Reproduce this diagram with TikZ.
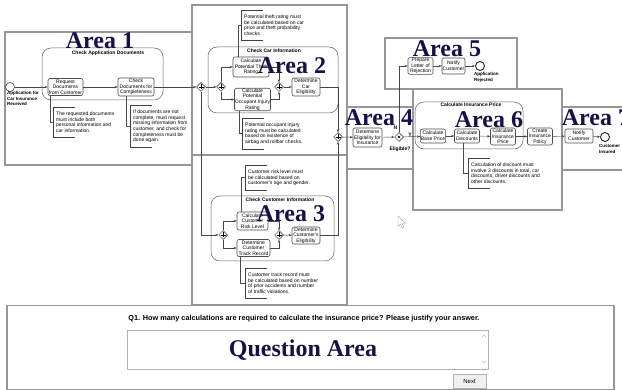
\documentclass[tikz,border=0pt]{standalone}
\usepackage{fontspec}
\setmainfont{Liberation Sans}
\newfontfamily\areafont{Liberation Serif}
\usetikzlibrary{shapes.geometric, arrows.meta, positioning, calc}
\definecolor{areanavy}{RGB}{22,16,72}
\definecolor{framegray}{RGB}{150,150,150}
\definecolor{linegray}{RGB}{70,70,70}
\tikzset{
  areaframe/.style={draw=framegray, line width=1.6pt},
  areatitle/.style={text=areanavy, font=\areafont\bfseries\fontsize{24}{24}\selectfont, inner sep=0pt},
  subproc/.style={draw=gray!75!black, line width=0.5pt, rounded corners=9pt},
  sptitle/.style={font=\bfseries\fontsize{5}{6}\selectfont, inner sep=0pt},
  task/.style={draw=gray!60!black, fill=white, rounded corners=2pt, line width=0.6pt, align=center, inner sep=0.5pt, font=\fontsize{5}{5.6}\selectfont},
  gate/.style={diamond, draw=gray!30!black, fill=white, line width=0.5pt, minimum size=9pt, inner sep=0pt},
  event/.style={circle, draw=gray!30!black, fill=white, line width=0.5pt, minimum size=9pt, inner sep=0pt},
  endevent/.style={event, line width=0.9pt},
  flow/.style={draw=linegray, line width=0.45pt, -{Stealth[length=3pt, width=2.4pt]}},
  assoc/.style={draw=gray!60!black, line width=0.5pt},
  bracket/.style={draw=gray!50!black, line width=0.6pt},
  note/.style={anchor=north west, align=left, inner xsep=3pt, inner ysep=4.5pt, font=\fontsize{5}{5.7}\selectfont},
  evlabel/.style={anchor=north west, align=left, inner sep=0pt, font=\bfseries\fontsize{4.5}{5.4}\selectfont},
  gatelabel/.style={inner sep=0pt, font=\bfseries\fontsize{5}{6}\selectfont}
}
\begin{document}
\begin{tikzpicture}[x=1pt, y=-1pt]
\useasboundingbox (0,0) rectangle (622,390);
\foreach \xa/\ya/\xb/\yb in {5/32/192/165, 192/5/347/155, 192/155/347/305, 347/107/413/169,
  385/38/517/89, 413/89/562/210, 562/107/640/170}
  \draw[areaframe] (\xa,\ya) rectangle (\xb,\yb);

\draw[subproc] (42,48) rectangle (163,100);
\draw[subproc] (208,47) rectangle (338,113);
\draw[subproc] (211,196) rectangle (334,261);
\draw[subproc] (415,102) rectangle (523,149);
\node[sptitle] (sp1) at (108,53) {Check Application Documents};
\node[sptitle] (sp2) at (274,51) {Check Car Information};
\node[sptitle] (sp3) at (280,200) {Check Customer Information};
\node[sptitle] (sp4) at (471,105) {Calculate Insurance Price};

\node[task, minimum width=35, minimum height=17] (reqdoc) at (65.5,87) {Request\\Documents\\from Customer};
\node[task, minimum width=36, minimum height=18] (chkdoc) at (136,87) {Check\\Documents for\\Completeness};
\node[task, minimum width=36, minimum height=20] (theft) at (251,67) {Calculate\\Potential Theft\\Rating};
\node[task, minimum width=35, minimum height=21] (injury) at (252.5,99.5) {Calculate\\Potential\\Occupant Injury\\Rating};
\node[task, minimum width=28, minimum height=18] (careligible) at (306,87) {Determine\\Car\\Eligibility};
\node[task, minimum width=31, minimum height=18] (risk) at (252.5,221) {Calculate\\Customer\\Risk Level};
\node[task, minimum width=33, minimum height=17] (track) at (253.5,248) {Determine\\Customer\\Track Record};
\node[task, minimum width=28, minimum height=17] (custelig) at (306,235.5) {Determine\\Customer's\\Eligibility};
\node[task, minimum width=29, minimum height=19] (elig) at (367.5,137.5) {Determine\\Eligibility for\\Insurance};
\node[task, minimum width=25, minimum height=16] (reject) at (420.5,66) {Prepare\\Letter of\\Rejection};
\node[task, minimum width=23, minimum height=16] (notifyrej) at (453.5,66) {Notify\\Customer};
\node[task, minimum width=25, minimum height=14] (base) at (433,136) {Calculate\\Base Price};
\node[task, minimum width=25, minimum height=14] (disc) at (467,136) {Calculate\\Discounts};
\node[task, minimum width=25, minimum height=17] (price) at (503,136.5) {Calculate\\Insurance\\Price};
\node[task, minimum width=25, minimum height=17] (policy) at (540,136.5) {Create\\Insurance\\Policy};
\node[task, minimum width=28, minimum height=14] (notifyok) at (579,136) {Notify\\Customer};

\node[gate] (g1) at (201,87) {};
\node[gate] (g2) at (221,87) {};
\node[gate] (g4) at (279,87) {};
\node[gate] (g3) at (223,235) {};
\node[gate] (g5) at (279,235) {};
\node[gate] (g7) at (338,137) {};
\node[gate] (g6) at (399,137) {};
\foreach \g in {g1,g2,g3,g4,g5,g7}
  \draw[line width=0.7pt] ([yshift=-2.5pt]\g.center) -- ([yshift=2.5pt]\g.center)
    ([xshift=-2.5pt]\g.center) -- ([xshift=2.5pt]\g.center);
\draw[line width=0.5pt] ([shift={(-1.3pt,-1.3pt)}]g6.center) -- ([shift={(1.3pt,1.3pt)}]g6.center)
  ([shift={(-1.3pt,1.3pt)}]g6.center) -- ([shift={(1.3pt,-1.3pt)}]g6.center);
\node[gatelabel] (nlbl) at (395.5,127.5) {N};
\node[gatelabel] (ylbl) at (410,134.5) {Y};
\node[gatelabel] (eliglbl) at (400,149.5) {Eligible?};

\node[event] (start) at (10,87) {};
\node[endevent] (rejected) at (480,66) {};
\node[endevent] (insured) at (605,137) {};
\node[evlabel] (startlbl) at (7,91.5) {Application for\\Car Insurance\\Received};
\node[evlabel] (rejlbl) at (474,72.5) {Application\\Rejected};
\node[evlabel] (inslbl) at (599,144.5) {Customer\\Insured};

\draw[flow] (start) -- (reqdoc);
\draw[flow] (reqdoc) -- (chkdoc);
\draw[flow] (chkdoc) -- (g1);
\draw[flow] (g1) -- (g2);
\draw[flow] (g1) |- (g3);
\draw[flow] (g2) |- (theft);
\draw[flow] (g2) |- (injury);
\draw[flow] (theft) -| (g4);
\draw[flow] (injury) -| (g4);
\draw[flow] (g4) -- (careligible);
\draw[flow] (careligible) -| (g7);
\draw[flow] (g3) |- (risk);
\draw[flow] (g3) |- (track);
\draw[flow] (risk) -| (g5);
\draw[flow] (track) -| (g5);
\draw[flow] (g5) -- (custelig);
\draw[flow] (custelig) -| (g7);
\draw[flow] (g7) -- (elig);
\draw[flow] (elig) -- (g6);
\draw[flow] (g6) |- (reject);
\draw[flow] (reject) -- (notifyrej);
\draw[flow] (notifyrej) -- (rejected);
\draw[flow] (g6) -- (base);
\draw[flow] (base) -- (disc);
\draw[flow] (disc) -- (price);
\draw[flow] (price) -- (policy);
\draw[flow] (policy) -- (notifyok);
\draw[flow] (notifyok) -- (insured);

\node[note] (n1) at (53,107) {The requested documents\\must include both\\personal information and\\car information.};
\node[note] (n2) at (130,105) {If documents are not\\complete, must request\\missing information from\\customer, and check for\\completeness must be\\done again.};
\node[note] (n3) at (241,10) {Potential theft rating must\\be calculated based on car\\price and theft probability\\checks.};
\node[note] (n4) at (242,118) {Potential occupant injury\\rating must be calculated\\based on existence of\\airbag and rollbar checks.};
\node[note] (n5) at (245,165) {Customer risk level must\\be calculated based on\\customer's age and gender.};
\node[note] (n6) at (245,268) {Customer track record must\\be calculated based on number\\of prior accidents and number\\of traffic violations.};
\node[note] (n7) at (468,158) {Calculation of discount must\\involve 3 discounts in total, car\\discounts, driver discounts and\\other discounts.};
\foreach \nn in {n1,n2,n3,n4,n5,n6,n7}
  \draw[bracket] ([xshift=22pt]\nn.north west) -- (\nn.north west) -- (\nn.south west) -- ([xshift=22pt]\nn.south west);
\draw[assoc] ([xshift=-15.5pt]reqdoc.south) |- (n1.west);
\draw[assoc] ([xshift=-10pt]chkdoc.south) |- (n2.west);
\draw[assoc] ([xshift=-13pt]theft.north) |- (n3.west);
\draw[assoc] ([xshift=-13.5pt]injury.south) |- (n4.west);
\draw[assoc] ([xshift=-11.5pt]risk.north) |- (n5.west);
\draw[assoc] ([xshift=-13.5pt]track.south) |- (n6.west);
\draw[assoc] ([xshift=-4pt]disc.south) |- (n7.west);

\foreach \n/\x/\y in {1/100/41, 2/292/66, 3/291/214, 4/379/118, 5/447/49, 6/489/120, 7/596/118}
  \node[areatitle] (area\n) at (\x,\y) {Area \n};

\draw[fill=white, draw=gray!70, line width=0.4pt] (398,216) -- (398,226.5) -- (400.5,224) -- (402.5,228) -- (404,227.3) -- (402,223.5) -- (405.5,223.5) -- cycle;

\draw[draw=framegray, line width=1.2pt] (7,305.5) rectangle (614,389.5);
\node[font=\bfseries\fontsize{7.3}{8}\selectfont, inner sep=0pt] (q1) at (304,319)
  {Q1. How many calculations are required to calculate the insurance price? Please justify your answer.};
\node[draw=gray!60, line width=0.6pt, minimum width=361, minimum height=39, inner sep=0pt] (answer) at (307.5,349.5) {};
\node[areatitle] (qarea) at (303,350) {Question Area};
\draw[gray!50, line width=0.4pt] (482,337) -- (484,335) -- (486,337) (482,361) -- (484,363) -- (486,361);
\node[draw=gray!60, fill=gray!12, minimum width=33, minimum height=14, inner sep=0pt, font=\fontsize{6}{7}\selectfont] (next) at (469.5,381) {Next};
\end{tikzpicture}
\end{document}
